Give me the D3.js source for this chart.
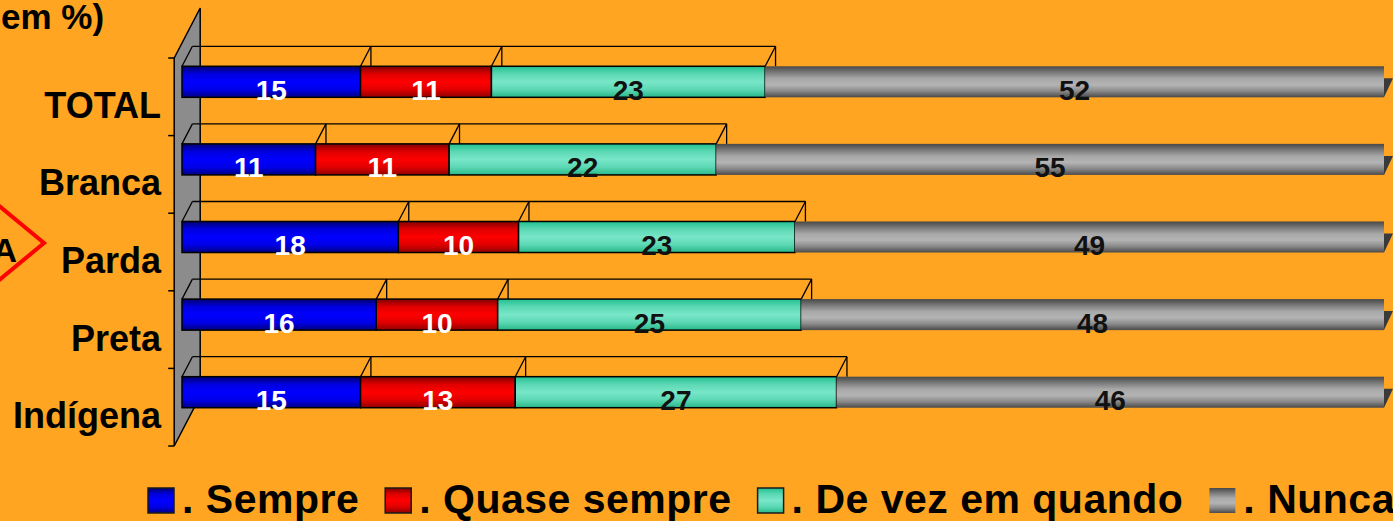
<!DOCTYPE html>
<html>
<head>
<meta charset="utf-8">
<script src="https://cdn.jsdelivr.net/npm/d3@7"></script>
<style>
  body { margin: 0; background: #FFA521; }
  svg { display: block; font-family: "Liberation Sans", Arial, sans-serif; font-weight: bold; }
</style>
</head>
<body>
<svg id="chart" width="1393" height="521"></svg>
<script>
// Data
const categories = ["TOTAL", "Branca", "Parda", "Preta", "Indígena"];
const seriesNames = [". Sempre", ". Quase sempre", ". De vez em quando", ". Nunca"];
const sempre = [15, 11, 18, 16, 15];
const quaseSempre = [11, 11, 10, 10, 13];
const deVezEmQuando = [23, 22, 23, 25, 27];
const nunca = [52, 55, 49, 48, 46];

const seriesKeys = ["sempre", "quase", "devez", "nunca"];
const rows = categories.map((c, i) => ({
    cat: c, sempre: sempre[i], quase: quaseSempre[i], devez: deVezEmQuando[i], nunca: nunca[i]
}));

const svg = d3.select("#chart");

// gradients for the 3D look
const grads = [
    { id: "g0", stops: ["#000070", "#0000e0", "#0000ff", "#0000e8", "#000080"] },
    { id: "g1", stops: ["#800000", "#e00000", "#ff0000", "#e00000", "#900000"] },
    { id: "g2", stops: ["#20c090", "#5cd8b4", "#78e6c8", "#5cd8b4", "#28b888"] },
    { id: "g3", stops: ["#484848", "#7a7a7a", "#a8a8a8", "#b4b4b4", "#8a8a8a", "#4a4a4a"] }
];
const defs = svg.append("defs");
grads.forEach(g => {
    const lg = defs.append("linearGradient").attr("id", g.id)
        .attr("x1", 0).attr("y1", 0).attr("x2", 0).attr("y2", 1);
    g.stops.forEach((s, i) => lg.append("stop")
        .attr("offset", i / (g.stops.length - 1)).attr("stop-color", s));
});
const textColors = ["#ffffff", "#ffffff", "#111111", "#111111"];

// 3D geometry
const depth = { dx: 26, dy: -50 };      // full wall depth
const barFront = 0.3, barBack = 0.7;   // bar sits inside this part of the depth

const xScale = d3.scaleLinear().domain([0, 1]).range([182, 1384]);
const yScale = d3.scaleBand().domain(categories).range([58, 446]).padding(0);
const wallX = xScale(0) - depth.dx * barFront;

const stack = d3.stack().keys(seriesKeys).offset(d3.stackOffsetExpand);
const series = stack(rows);

// wall
const wTop = yScale.range()[0], wBot = yScale.range()[1];
svg.append("polygon")
    .attr("points", [
        [wallX, wTop], [wallX + depth.dx, wTop + depth.dy],
        [wallX + depth.dx, wBot + depth.dy], [wallX, wBot]
    ].map(p => p.join(",")).join(" "))
    .attr("fill", "#8c8c8c")
    .attr("stroke", "#000")
    .attr("stroke-width", 1.5);

// category ticks
const tickPos = categories.map(c => yScale(c)).concat([wBot]);
svg.selectAll(".tick")
    .data(tickPos)
    .enter()
    .append("line")
    .attr("x1", wallX - 6).attr("x2", wallX)
    .attr("y1", d => d).attr("y2", d => d)
    .attr("stroke", "#000").attr("stroke-width", 1.5);

// category labels
svg.selectAll(".cat-label")
    .data(categories)
    .enter()
    .append("text")
    .attr("x", 161)
    .attr("y", d => yScale(d) + yScale.bandwidth() / 2 + 21)
    .attr("text-anchor", "end")
    .attr("font-size", 36)
    .attr("fill", "#000")
    .text(d => d);

const barH = yScale.bandwidth() * 0.4;
const offX = depth.dx * barFront, offY = depth.dy * barFront;
const bdx = depth.dx * (barBack - barFront), bdy = depth.dy * (barBack - barFront);
const barTop = c => yScale(c) + yScale.bandwidth() / 2 + offY - barH / 2;

// bars, one group per category
categories.forEach((c, ci) => {
    const top = barTop(c);
    const g = svg.append("g");
    const segs = series.map((s, si) => ({ x0: xScale(s[ci][0]), x1: xScale(s[ci][1]), si: si, v: s[ci].data[s.key] }));

    // back outline of the top face (first three segments)
    const outlineEnd = segs[2].x1;
    g.append("line")
        .attr("x1", segs[0].x0 + bdx).attr("x2", outlineEnd + bdx)
        .attr("y1", top + bdy).attr("y2", top + bdy)
        .attr("stroke", "#000").attr("stroke-width", 1.3);
    g.append("line")
        .attr("x1", segs[0].x0).attr("y1", top)
        .attr("x2", segs[0].x0 + bdx).attr("y2", top + bdy)
        .attr("stroke", "#000").attr("stroke-width", 1.3);
    segs.slice(0, 3).forEach(s => {
        g.append("line")
            .attr("x1", s.x1).attr("y1", top)
            .attr("x2", s.x1 + bdx).attr("y2", top + bdy)
            .attr("stroke", "#000").attr("stroke-width", 1.3);
        g.append("line")
            .attr("x1", s.x1 + bdx).attr("y1", top + bdy)
            .attr("x2", s.x1 + bdx).attr("y2", top)
            .attr("stroke", "#000").attr("stroke-width", 1.3);
    });

    // front faces
    g.selectAll("rect")
        .data(segs)
        .enter()
        .append("rect")
        .attr("x", d => d.x0)
        .attr("y", top)
        .attr("width", d => d.x1 - d.x0)
        .attr("height", barH)
        .attr("fill", d => `url(#${grads[d.si].id})`)
        .attr("stroke", d => d.si === 3 ? "none" : "#000")
        .attr("stroke-width", 1.5);

    // end cap of the last segment
    const xe = segs[3].x1;
    g.append("polygon")
        .attr("points", [[xe, top + 12], [xe + 9, top + 12], [xe, top + barH]].map(p => p.join(",")).join(" "))
        .attr("fill", "#3a3a3a");

    // value labels
    g.selectAll(".bar-label")
        .data(segs)
        .enter()
        .append("text")
        .attr("x", d => (d.x0 + d.x1) / 2)
        .attr("y", top + barH + 2.5)
        .attr("text-anchor", "middle")
        .attr("font-size", 28)
        .attr("fill", d => textColors[d.si])
        .text(d => d.v);
});

// title fragment and marker at the left
svg.append("text")
    .attr("x", 1).attr("y", 29)
    .attr("font-size", 35)
    .attr("fill", "#000")
    .text("em %)");

svg.append("polyline")
    .attr("points", "-2,205 44,243 -2,281")
    .attr("fill", "none")
    .attr("stroke", "#ff0000")
    .attr("stroke-width", 4);
svg.append("text")
    .attr("x", 17).attr("y", 262)
    .attr("text-anchor", "end")
    .attr("font-size", 34)
    .attr("fill", "#000")
    .text("A");

// legend
const legend = svg.append("g");
let lx = 148;
seriesNames.forEach((name, i) => {
    legend.append("rect")
        .attr("x", lx).attr("y", 488)
        .attr("width", 26).attr("height", 25)
        .attr("fill", `url(#${grads[i].id})`)
        .attr("stroke", i === 3 ? "none" : "#1a1a1a")
        .attr("stroke-width", 1.5);
    const t = legend.append("text")
        .attr("x", lx + 34).attr("y", 513)
        .attr("font-size", 41)
        .attr("letter-spacing", 0.5)
        .attr("fill", "#000")
        .text(name);
    lx = lx + 34 + t.node().getComputedTextLength() + 26;
});
</script>
</body>
</html>
